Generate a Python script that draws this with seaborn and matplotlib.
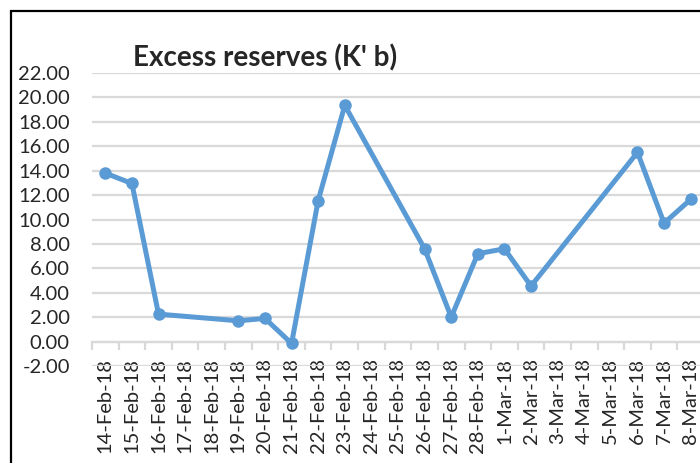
import pandas as pd
import matplotlib.pyplot as plt
import seaborn as sns
from matplotlib.patches import Rectangle

# Category axis: every calendar day shown on the chart
date_labels = ["14-Feb-18", "15-Feb-18", "16-Feb-18", "17-Feb-18", "18-Feb-18",
               "19-Feb-18", "20-Feb-18", "21-Feb-18", "22-Feb-18", "23-Feb-18",
               "24-Feb-18", "25-Feb-18", "26-Feb-18", "27-Feb-18", "28-Feb-18",
               "1-Mar-18", "2-Mar-18", "3-Mar-18", "4-Mar-18", "5-Mar-18",
               "6-Mar-18", "7-Mar-18", "8-Mar-18"]

# Observed business days and excess reserves (K' b)
obs_dates = ["14-Feb-18", "15-Feb-18", "16-Feb-18", "19-Feb-18", "20-Feb-18",
             "21-Feb-18", "22-Feb-18", "23-Feb-18", "26-Feb-18", "27-Feb-18",
             "28-Feb-18", "1-Mar-18", "2-Mar-18", "6-Mar-18", "7-Mar-18",
             "8-Mar-18"]
reserves = [13.8, 12.95, 2.25, 1.7, 1.9, -0.15, 11.55, 19.35, 7.6, 2.0,
            7.2, 7.6, 4.55, 15.5, 9.7, 11.65]

title = "Excess reserves (K' b)"
y_ticks = list(range(-2, 23, 2))

df = pd.DataFrame({"date": obs_dates, "value": reserves})
df["pos"] = [date_labels.index(d) for d in df["date"]]

sns.set_style("white")
plt.rcParams["font.family"] = ["Lato", "DejaVu Sans"]

fig = plt.figure(figsize=(7, 4.63), dpi=100)
ax = fig.add_axes([92 / 700, 1 - 366 / 463, 612 / 700, (366 - 73) / 463])

blue = "#5B9BD5"
sns.lineplot(data=df, x="pos", y="value", ax=ax, color=blue, linewidth=3.6,
             marker="o", markersize=9, markeredgewidth=0, zorder=3)

ax.set_xlim(-0.5, len(date_labels) - 0.5)
ax.set_ylim(-2, 22)
ax.set_yticks(y_ticks)
ax.set_yticklabels([f"{v:.2f}" for v in y_ticks], fontsize=14.5)
ax.yaxis.grid(True, color="#D9D9D9", linewidth=1.6)
ax.set_axisbelow(True)

# category axis crosses at 0, labels sit low
ax.spines["bottom"].set_position(("data", 0))
ax.spines["bottom"].set_color("#D9D9D9")
ax.spines["bottom"].set_linewidth(1.6)
for s in ["left", "right", "top"]:
    ax.spines[s].set_visible(False)
ax.set_xticks(range(len(date_labels)))
ax.set_xticklabels(date_labels, rotation=90, fontsize=14.5, va="top")
ax.set_xticks([i - 0.5 for i in range(len(date_labels) + 1)], minor=True)
ax.tick_params(axis="x", which="major", length=0, pad=12)
ax.tick_params(axis="x", which="minor", length=6, width=1.6, color="#D9D9D9",
               direction="out", bottom=True)
ax.tick_params(axis="y", length=0, pad=16)
ax.set_xlabel("")
ax.set_ylabel("")

fig.text(265 / 700, 1 - 58 / 463, title, ha="center", va="center",
         fontsize=20, fontweight="bold")

# chart border (cropped on the right and bottom)
fig.patches.append(Rectangle((11 / 700, -0.1), 1.2, 1 - 11 / 463 + 0.1,
                             transform=fig.transFigure, fill=False,
                             edgecolor="black", linewidth=1.6))

fig.savefig("out.png", dpi=100)
